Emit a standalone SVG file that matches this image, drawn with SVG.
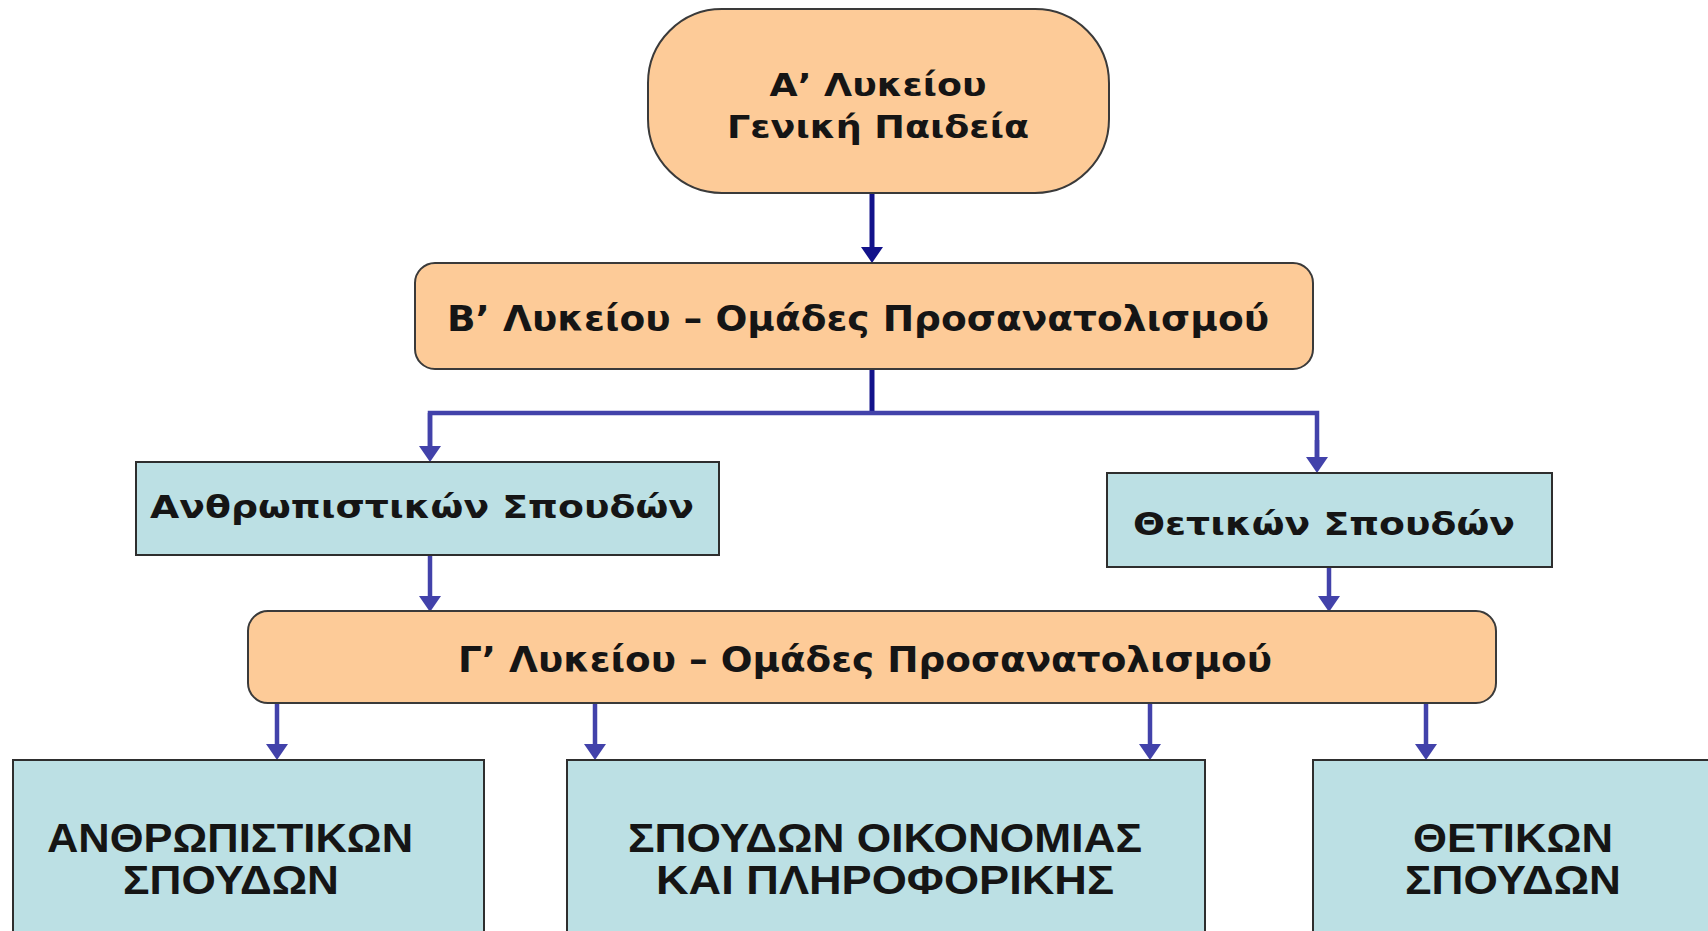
<svg xmlns="http://www.w3.org/2000/svg" width="1708" height="931" viewBox="0 0 1708 931">
<defs>
<style>
.peach{fill:#FDCB98;stroke:#3a3a3a;stroke-width:2}
.blue{fill:#BCE0E4;stroke:#2e2e2e;stroke-width:2}
.t{font-family:"DejaVu Sans","Noto Sans",sans-serif;font-weight:bold;fill:#151515;text-anchor:middle}
.tc{font-family:"Liberation Sans",Arial,sans-serif;font-weight:bold;fill:#151515;text-anchor:middle;font-size:40px}
.cd{fill:none;stroke:#12128A;stroke-width:5}
.cb{fill:none;stroke:#4242AA;stroke-width:4.5}
</style>
<marker id="ad" viewBox="0 0 16 22" markerUnits="userSpaceOnUse" markerWidth="16" markerHeight="22" refX="4" refY="11" orient="auto"><path d="M0,0 L16,11 L0,22 z" fill="#12128A"/></marker>
<marker id="ab" viewBox="0 0 16 22" markerUnits="userSpaceOnUse" markerWidth="16" markerHeight="22" refX="4" refY="11" orient="auto"><path d="M0,0 L16,11 L0,22 z" fill="#4242AA"/></marker>
</defs>
<rect width="1708" height="931" fill="#ffffff"/>
<g id="connectors">
<path class="cd" d="M872,193 V251" marker-end="url(#ad)"/>
<path class="cd" d="M872,369 V413"/>
<path class="cb" d="M430,451 V413 H1317 V459"/>
<path class="cb" d="M430,413 V450" marker-end="url(#ab)"/>
<path class="cb" d="M1317,440 V461" marker-end="url(#ab)"/>
<path class="cb" d="M430,555 V600" marker-end="url(#ab)"/>
<path class="cb" d="M1329,567 V600" marker-end="url(#ab)"/>
<path class="cb" d="M277,703 V748" marker-end="url(#ab)"/>
<path class="cb" d="M595,703 V748" marker-end="url(#ab)"/>
<path class="cb" d="M1150,703 V748" marker-end="url(#ab)"/>
<path class="cb" d="M1426,703 V748" marker-end="url(#ab)"/>
</g>
<g id="nodeA">
<rect class="peach" x="648" y="9" width="461" height="184" rx="74" ry="74"/>
<text class="t" x="878" y="96" font-size="32" textLength="217" lengthAdjust="spacingAndGlyphs">Α’ Λυκείου</text>
<text class="t" x="878" y="138" font-size="32" textLength="302" lengthAdjust="spacingAndGlyphs">Γενική Παιδεία</text>
</g>
<g id="nodeB">
<rect class="peach" x="415" y="263" width="898" height="106" rx="20" ry="20"/>
<text class="t" x="858" y="331" font-size="36" textLength="822" lengthAdjust="spacingAndGlyphs">Β’ Λυκείου – Ομάδες Προσανατολισμού</text>
</g>
<g id="nodeHum">
<rect class="blue" x="136" y="462" width="583" height="93"/>
<text class="t" x="422" y="518" font-size="31" textLength="544" lengthAdjust="spacingAndGlyphs">Ανθρωπιστικών Σπουδών</text>
</g>
<g id="nodeSci">
<rect class="blue" x="1107" y="473" width="445" height="94"/>
<text class="t" x="1324" y="535" font-size="31" textLength="382" lengthAdjust="spacingAndGlyphs">Θετικών Σπουδών</text>
</g>
<g id="nodeG">
<rect class="peach" x="248" y="611" width="1248" height="92" rx="20" ry="20"/>
<text class="t" x="865" y="672" font-size="35" textLength="814" lengthAdjust="spacingAndGlyphs">Γ’ Λυκείου – Ομάδες Προσανατολισμού</text>
</g>
<g id="nodeHumG">
<rect class="blue" x="13" y="760" width="471" height="190"/>
<text class="tc" x="230" y="852" textLength="366" lengthAdjust="spacingAndGlyphs">ΑΝΘΡΩΠΙΣΤΙΚΩΝ</text>
<text class="tc" x="231" y="894" textLength="216" lengthAdjust="spacingAndGlyphs">ΣΠΟΥΔΩΝ</text>
</g>
<g id="nodeEco">
<rect class="blue" x="567" y="760" width="638" height="190"/>
<text class="tc" x="885" y="852" textLength="514" lengthAdjust="spacingAndGlyphs">ΣΠΟΥΔΩΝ ΟΙΚΟΝΟΜΙΑΣ</text>
<text class="tc" x="885" y="894" textLength="458" lengthAdjust="spacingAndGlyphs">ΚΑΙ ΠΛΗΡΟΦΟΡΙΚΗΣ</text>
</g>
<g id="nodeSciG">
<rect class="blue" x="1313" y="760" width="420" height="190"/>
<text class="tc" x="1513" y="852" textLength="200" lengthAdjust="spacingAndGlyphs">ΘΕΤΙΚΩΝ</text>
<text class="tc" x="1513" y="894" textLength="216" lengthAdjust="spacingAndGlyphs">ΣΠΟΥΔΩΝ</text>
</g>
</svg>
